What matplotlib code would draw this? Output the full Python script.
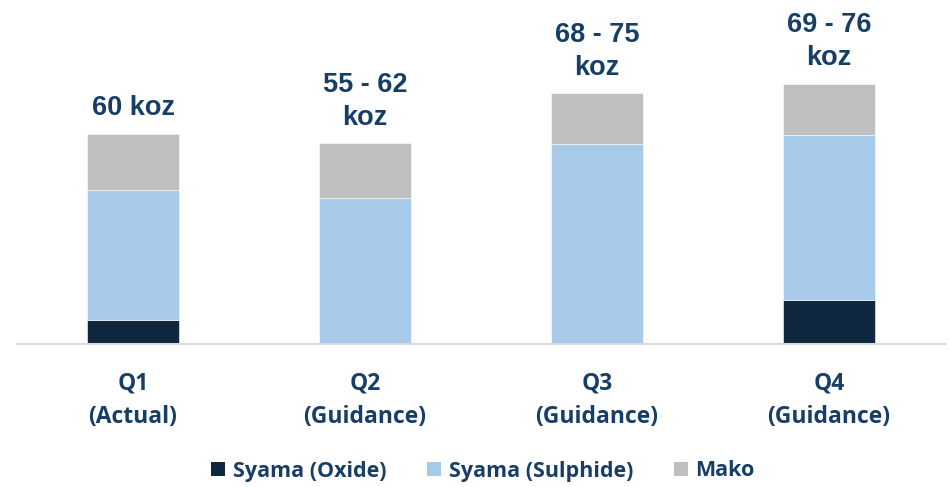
import numpy as np
import matplotlib
matplotlib.use("Agg")
import matplotlib.pyplot as plt
from matplotlib.patches import Patch


quarters = ["Q1\n(Actual)", "Q2\n(Guidance)", "Q3\n(Guidance)", "Q4\n(Guidance)"]
oxide = [6.9, 0.0, 0.0, 12.6]
sulphide = [37.1, 41.7, 57.1, 47.1]
mako = [16.1, 15.7, 14.5, 14.7]
labels = ["60 koz", "55 - 62\nkoz", "68 - 75\nkoz", "69 - 76\nkoz"]

OXIDE_C = "#0F283F"
SULPH_C = "#A7CAEB"
MAKO_C = "#BFBFBF"
TEXT_C = "#173E66"


def main():
    fig = plt.figure(figsize=(9.49, 4.87), dpi=100)
    ax = fig.add_axes([17 / 949, (487 - 344) / 487, (945 - 17) / 949, 344 / 487])

    x = np.arange(len(quarters))
    oxide_arr = np.array(oxide)
    sulph_arr = np.array(sulphide)
    mako_arr = np.array(mako)

    w = 0.4
    ax.bar(x, oxide_arr, w, color=OXIDE_C, edgecolor="white", linewidth=0.4)
    ax.bar(x, sulph_arr, w, bottom=oxide_arr, color=SULPH_C,
           edgecolor="white", linewidth=0.4)
    ax.bar(x, mako_arr, w, bottom=oxide_arr + sulph_arr, color=MAKO_C,
           edgecolor="white", linewidth=0.4)

    totals = oxide_arr + sulph_arr + mako_arr
    for xi, tot, lab in zip(x, totals, labels):
        ax.annotate(lab, (xi, tot), xytext=(0, 9), textcoords="offset points",
                    ha="center", va="bottom", fontsize=19.5, fontweight="bold",
                    color=TEXT_C, family="Liberation Sans", linespacing=1.35)

    ax.set_xlim(-0.5, 3.5)
    ax.set_ylim(0, 344 / 3.5)
    ax.set_yticks([])
    ax.set_xticks(x)
    ax.set_xticklabels(quarters, fontsize=16.5, fontweight="bold", color=TEXT_C,
                       family="Open Sans", linespacing=1.5)
    ax.tick_params(axis="x", length=0, pad=20)

    for s in ["top", "right", "left"]:
        ax.spines[s].set_visible(False)
    ax.spines["bottom"].set_color("#D9D9D9")
    ax.spines["bottom"].set_linewidth(1.5)

    handles = [
        Patch(facecolor=OXIDE_C, label="Syama (Oxide)"),
        Patch(facecolor=SULPH_C, label="Syama (Sulphide)"),
        Patch(facecolor=MAKO_C, label="Mako"),
    ]
    fig.legend(handles=handles, loc="center", bbox_to_anchor=(483 / 949, 1 - 471 / 487),
               ncol=3, frameon=False, handlelength=0.65, handleheight=0.65,
               handletextpad=0.35, columnspacing=1.9,
               prop={"family": "Open Sans", "weight": "bold", "size": 15.5},
               labelcolor=TEXT_C)

    fig.savefig("out.png", dpi=100)


if __name__ == "__main__":
    main()
